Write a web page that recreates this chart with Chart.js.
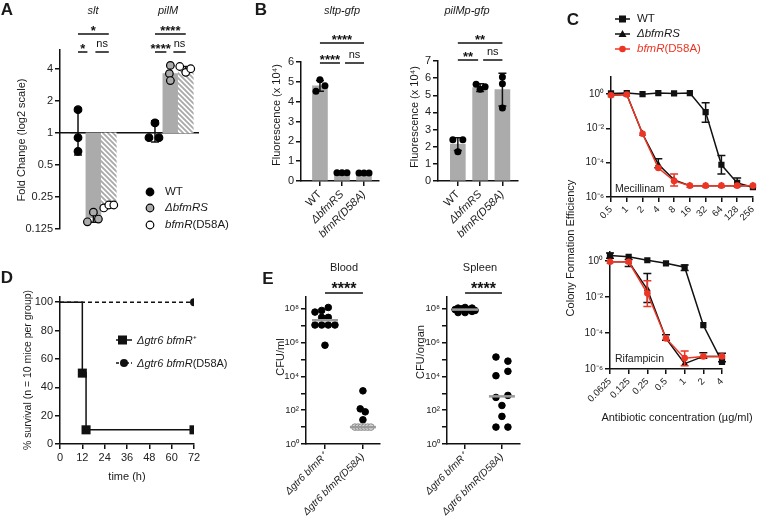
<!DOCTYPE html>
<html>
<head>
<meta charset="utf-8">
<title>BfmR figure</title>
<script src="https://cdn.jsdelivr.net/npm/chart.js@4.4.1/dist/chart.umd.min.js"></script>
<style>
  body { margin: 0; background: #fff; }
  #fig { position: relative; width: 763px; height: 516px; overflow: hidden; font-family: "Liberation Sans", Arial, sans-serif; color: #1a1a1a; }
  #fig canvas { position: absolute; }
  #fig svg { position: absolute; left: 0; top: 0; }
  .t { position: absolute; white-space: nowrap; line-height: 1; font-size: 11px; }
  .big { font-size: 17px; font-weight: bold; }
  .red { color: #ee3524; }
</style>
</head>
<body>
<div id="fig">
  <canvas id="chartA" width="250" height="250" style="left:0;top:0"></canvas>
  <canvas id="chartB1" width="132" height="250" style="left:252px;top:0"></canvas>
  <canvas id="chartB2" width="132" height="250" style="left:390px;top:0"></canvas>
  <canvas id="chartC1" width="185" height="200" style="left:578px;top:60px"></canvas>
  <canvas id="chartC2" width="160" height="170" style="left:578px;top:240px"></canvas>
  <canvas id="chartD" width="250" height="215" style="left:0;top:270px"></canvas>
  <canvas id="chartE1" width="130" height="246" style="left:258px;top:270px"></canvas>
  <canvas id="chartE2" width="125" height="246" style="left:400px;top:270px"></canvas>
  <svg width="763" height="516">
    <!-- legenda A -->
    <circle cx="150" cy="192" r="3.8" fill="#000" stroke="#000" stroke-width="1.2"/>
    <circle cx="150" cy="208" r="3.8" fill="#ababab" stroke="#000" stroke-width="1.2"/>
    <circle cx="150" cy="225" r="3.8" fill="#fff" stroke="#000" stroke-width="1.2"/>
    <!-- legenda C -->
    <line x1="615" y1="19" x2="630" y2="19" stroke="#111" stroke-width="1.5"/>
    <rect x="619" y="15.5" width="7" height="7" fill="#111"/>
    <line x1="615" y1="34" x2="630" y2="34" stroke="#111" stroke-width="1.5"/>
    <polygon points="622.5,30 626.5,37 618.5,37" fill="#111"/>
    <line x1="615" y1="49" x2="630" y2="49" stroke="#ee3524" stroke-width="1.5"/>
    <circle cx="622.5" cy="49" r="3.3" fill="#ee3524"/>
    <!-- legenda D -->
    <line x1="116" y1="340" x2="132" y2="340" stroke="#111" stroke-width="1.5"/>
    <rect x="118" y="335.5" width="9" height="9" fill="#111"/>
    <line x1="116" y1="363" x2="132" y2="363" stroke="#111" stroke-width="1.5" stroke-dasharray="3,2"/>
    <circle cx="124" cy="363" r="4" fill="#111"/>
  </svg>
</div>
<script>
// ---- A: fold change (log2), [gene][replicate] per strain
const aGenes = ['slt', 'pilM'];
const aWT   = [[1.65, 0.90, 0.67], [1.24, 0.90, 0.90]];
const aDRS  = [[0.146, 0.18, 0.155], [4.3, 3.6, 3.1]];
const aD58A = [[0.197, 0.21, 0.21], [4.2, 3.7, 4.0]];
// bar heights and error ranges, [gene][strain]
const aMean = [[1, 0.16, 0.205], [1, 3.6, 3.95]];
const aErr  = [[[0.62, 1.7], [0.145, 0.175], [0.198, 0.212]], [[0.82, 1.3], [3.1, 4.3], [3.75, 4.2]]];
const aTicks = [0.125, 0.25, 0.5, 1, 2, 4];

// ---- B: fluorescence (x 10^4), [strain][replicate]
const bLabels = ['WT', 'ΔbfmRS', 'bfmR(D58A)'];
const bSltPts  = [[4.53, 4.8, 5.1], [0.42, 0.42, 0.42], [0.4, 0.4, 0.4]];
const bSltMean = [4.8, 0.42, 0.4];
const bSltSd   = [0.27, 0.02, 0.02];
const bPilPts  = [[2.4, 2.4, 1.7], [5.65, 5.5, 5.35], [6.07, 5.67, 4.26]];
const bPilMean = [2.15, 5.45, 5.33];
const bPilSd   = [0.37, 0.23, 0.95];
const bSltTicks = [0, 1, 2, 3, 4, 5, 6];
const bPilTicks = [0, 1, 2, 3, 4, 5, 6, 7];

// ---- C: colony formation efficiency
const mecConc = ['0.5', '1', '2', '4', '8', '16', '32', '64', '128', '256'];
const mecWT   = [1.1, 1.15, 1.0, 1.15, 1.1, 1.15, 0.09, 7.6e-5, 6.6e-6, 3.7e-6];
const mecDRS  = [0.87, 0.95, 4.9e-3, 8e-5, 1e-5, 4.6e-6, 4.6e-6, 4.6e-6, 4.6e-6, 4.6e-6];
const mecD58A = [0.87, 0.95, 4.9e-3, 4.9e-5, 8.7e-6, 4.6e-6, 4.6e-6, 4.6e-6, 4.6e-6, 4.6e-6];
const mecWTErr   = [null, null, null, null, null, null, [0.023, 0.32], [2.2e-5, 2.6e-4], [4.5e-6, 1.3e-5], null];
const mecDRSErr  = [null, null, null, [5e-5, 1.7e-4], null, null, null, null, null, null];
const mecD58AErr = [null, null, null, null, [4.4e-6, 2.2e-5], null, null, null, null, null];

const rifConc = ['0.0625', '0.125', '0.25', '0.5', '1', '2', '4'];
const rifWT   = [2.0, 1.7, 1.1, 0.74, 0.45, 2.7e-4, 2.5e-6];
const rifDRS  = [0.9, 0.9, 0.027, 5e-5, 2e-6, 5e-6, 5e-6];
const rifD58A = [0.9, 0.9, 0.016, 5e-5, 4e-6, 5e-6, 5e-6];
const rifWTErr   = [[1.4, 2.8], null, null, null, [0.3, 0.6], null, [2.5e-6, 7.4e-6]];
const rifDRSErr  = [null, [0.5, 1.2], [5e-3, 0.2], [4e-5, 8e-5], null, [4e-6, 8e-6], null];
const rifD58AErr = [null, null, [3e-3, 0.08], null, [1.5e-6, 1e-5], null, null];
const cTicks = [1e-6, 1e-4, 1e-2, 1];

// ---- D: survival (%)
const dTime  = [0, 12, 14, 72];
const dWT    = [100, 50, 10, 10];
const dTime2 = [0, 72];
const dD58A  = [100, 100];
const dXTicks = [0, 12, 24, 36, 48, 60, 72];
const dYTicks = [0, 20, 40, 60, 80, 100];

// ---- E: CFU
const eLabels = ['Δgtr6 bfmR⁺', 'Δgtr6 bfmR(D58A)'];
const bloodWT   = [6.4e7, 8e7, 1.2e8, 3.1e7, 3.1e7, 1.1e7, 1.1e7, 1.1e7, 1.1e7, 7e5];
const bloodD58A = [1400, 120, 80, 27, 10, 10, 10, 10, 10, 10];
const spleenWT   = [1.1e8, 1.2e8, 1.1e8, 9e7, 1.0e8, 9e7, 8e7, 6e7, 6e7, 7e7];
const spleenD58A = [1.4e5, 8e4, 1.1e4, 2e4, 570, 750, 190, 43, 10, 10];
const bloodLOD = 10;
const eTicks = [1, 10, 1e2, 1e3, 1e4, 1e5, 1e6, 1e7, 1e8];

// ---------------------------------------------------------------
const INK = '#111';
const GRAY = '#ababab';
const RED = '#ee3524';
const FONT = '"Liberation Sans", Arial, Helvetica, sans-serif';
Chart.defaults.font.family = FONT;
Chart.defaults.color = '#222';
Chart.defaults.animation = false;
Chart.defaults.responsive = false;
Chart.defaults.plugins.legend.display = false;
Chart.defaults.plugins.tooltip.enabled = false;

const SUP = { '-': '⁻', '0': '⁰', '1': '¹', '2': '²', '3': '³', '4': '⁴', '5': '⁵', '6': '⁶', '7': '⁷', '8': '⁸', '9': '⁹' };
const pow10 = v => '10' + String(Math.round(Math.log10(v))).split('').map(c => SUP[c]).join('');

// barras de erro desenhadas logo depois do dataset
const errorBarPlugin = {
  id: 'errorBars',
  afterDatasetDraw(chart, args) {
    const ds = chart.data.datasets[args.index];
    if (!ds.errorBars) return;
    const meta = args.meta;
    const yScale = chart.scales[meta.yAxisID];
    const ctx = chart.ctx;
    const w = ds.capWidth || 4;
    ctx.save();
    ctx.strokeStyle = ds.errorColor || INK;
    ctx.lineWidth = 1.5;
    ds.errorBars.forEach((e, i) => {
      if (!e || !meta.data[i]) return;
      const x = meta.data[i].x;
      const y1 = yScale.getPixelForValue(e[0]);
      const y2 = yScale.getPixelForValue(e[1]);
      ctx.beginPath();
      ctx.moveTo(x, y1); ctx.lineTo(x, y2);
      ctx.moveTo(x - w, y1); ctx.lineTo(x + w, y1);
      ctx.moveTo(x - w, y2); ctx.lineTo(x + w, y2);
      ctx.stroke();
    });
    ctx.restore();
  }
};

// linhas de significância acima do gráfico
const sigPlugin = {
  id: 'sig',
  afterDraw(chart, args, opts) {
    if (!opts || !opts.items) return;
    const { ctx, chartArea } = chart;
    const x = chart.scales.x;
    ctx.save();
    ctx.strokeStyle = INK;
    ctx.fillStyle = INK;
    ctx.lineWidth = 1.5;
    ctx.textAlign = 'center';
    ctx.textBaseline = 'alphabetic';
    opts.items.forEach(it => {
      const x1 = x.getPixelForValue(it.from) + (it.insetL || 0);
      const x2 = x.getPixelForValue(it.to) - (it.insetR || 0);
      const y = chartArea.top + it.dy;
      ctx.beginPath(); ctx.moveTo(x1, y); ctx.lineTo(x2, y); ctx.stroke();
      const stars = it.text.indexOf('*') >= 0;
      ctx.font = stars ? `bold ${opts.starSize || 13}px ${FONT}` : `11px ${FONT}`;
      ctx.fillText(it.text, (x1 + x2) / 2, stars ? y + 1 : y - 5);
    });
    ctx.restore();
  }
};

// linha horizontal de referência (fold change = 1)
const refLinePlugin = {
  id: 'refLine',
  beforeDatasetsDraw(chart, args, opts) {
    if (!opts || opts.value === undefined) return;
    const { ctx, chartArea } = chart;
    const y = chart.scales.y.getPixelForValue(opts.value);
    ctx.save();
    ctx.strokeStyle = INK; ctx.lineWidth = 1.5;
    ctx.beginPath(); ctx.moveTo(chartArea.left, y); ctx.lineTo(chartArea.right, y); ctx.stroke();
    ctx.restore();
  }
};

// mediana (cinza) sobre os pontos
const medianPlugin = {
  id: 'medianLine',
  afterDatasetsDraw(chart) {
    const ctx = chart.ctx;
    chart.data.datasets.forEach(ds => {
      if (ds.center === undefined) return;
      const ys = ds.data.map(p => p.y).sort((a, b) => a - b);
      const n = ys.length;
      const med = n % 2 ? ys[(n - 1) / 2] : (ys[n / 2 - 1] + ys[n / 2]) / 2;
      const cx = chart.scales.x.getPixelForValue(ds.center);
      const cy = chart.scales.y.getPixelForValue(med);
      ctx.save();
      ctx.strokeStyle = '#9a9a9a'; ctx.lineWidth = 2.5;
      ctx.beginPath(); ctx.moveTo(cx - 13, cy); ctx.lineTo(cx + 13, cy); ctx.stroke();
      ctx.restore();
    });
  }
};
Chart.register(errorBarPlugin, sigPlugin, refLinePlugin, medianPlugin);

function scale(o) {
  const s = {
    type: o.type || 'linear',
    display: o.display !== false,
    offset: false,
    beginAtZero: false,
    border: { color: INK, width: 1.5 },
    grid: { drawOnChartArea: false, color: INK, lineWidth: 1.5, tickLength: 5, offset: false },
    ticks: { color: '#222', padding: 2, autoSkip: false, font: o.font || { size: 11 }, minRotation: o.rot || 0, maxRotation: o.rot || 0 }
  };
  if (o.size !== undefined) {
    s.afterFit = sc => { if (sc.isHorizontal()) sc.height = o.size; else sc.width = o.size; };
  }
  if (o.min !== undefined) s.min = o.min;
  if (o.max !== undefined) s.max = o.max;
  if (o.ticks) s.afterBuildTicks = sc => { sc.ticks = o.ticks.map(v => ({ value: v })); };
  if (o.fmt) s.ticks.callback = o.fmt;
  return s;
}

function makeHatch() {
  const c = document.createElement('canvas');
  c.width = 5; c.height = 5;
  const g = c.getContext('2d');
  g.fillStyle = '#fff'; g.fillRect(0, 0, 5, 5);
  g.strokeStyle = '#a9a9a9'; g.lineWidth = 1.8;
  g.beginPath();
  for (let k = -1; k <= 1; k++) { g.moveTo(k * 5 - 1, -1); g.lineTo(k * 5 + 6, 6); }
  g.stroke();
  return g.createPattern(c, 'repeat');
}

function opts(pad, scales, plugins) {
  return { devicePixelRatio: 1, layout: { autoPadding: false, padding: pad }, scales, plugins: plugins || {} };
}

// ---- painel A
const hatch = makeHatch();
const aPos = (g, s) => 1 + g * 5 + s;
const aPpu = 15.4;
const aJit = [[[0, 0, 0], [0, -6, 4]], [[-6, 0, 5], [0, -1, 0]], [[-5, 0, 5], [-6, 0, 5]]];
const aFill = ['#000', GRAY, '#fff'];
new Chart(document.getElementById('chartA'), {
  type: 'bar',
  data: {
    datasets: [
      ...[aWT, aDRS, aD58A].map((reps, s) => ({
        type: 'scatter', order: 1,
        data: reps.flatMap((vals, g) => vals.map((v, r) => ({ x: aPos(g, s) + aJit[s][g][r] / aPpu, y: v }))),
        pointRadius: 3.8, pointBackgroundColor: aFill[s], pointBorderColor: '#000', pointBorderWidth: 1.2
      })),
      {
        type: 'bar', order: 5,
        data: aMean.flatMap((row, g) => row.map((m, s) => ({ x: aPos(g, s), y: [1, m] }))),
        backgroundColor: aMean.flatMap(row => row.map((m, s) => [INK, GRAY, hatch][s])),
        barThickness: 15, errorBars: aErr.flat(1)
      }
    ]
  },
  options: opts({ top: 50, right: 51, bottom: 21, left: 0 }, {
    x: scale({ display: false, min: -0.17, max: 8.86 }),
    y: scale({ type: 'logarithmic', min: 0.125, max: 6, ticks: aTicks, fmt: v => String(v), size: 60 })
  }, {
    refLine: { value: 1 },
    sig: { items: [
      { from: 1, to: 3, dy: -16, text: '*' },
      { from: 1, to: 2, dy: 2, text: '*', insetR: 6 },
      { from: 2, to: 3, dy: 2, text: 'ns', insetL: 2 },
      { from: 6, to: 8, dy: -16, text: '****' },
      { from: 6, to: 7, dy: 2, text: '****', insetR: 4 },
      { from: 7, to: 8, dy: 2, text: 'ns', insetL: 3 }
    ] }
  })
});

// ---- painel B
function barPanel(id, pts, means, sds, yMax, yTicks, xMin, xMax, ppu, jit, pad, yW, sig) {
  new Chart(document.getElementById(id), {
    type: 'bar',
    data: {
      datasets: [
        {
          type: 'scatter', order: 1,
          data: pts.flatMap((vals, s) => vals.map((v, r) => ({ x: s + jit[s][r] / ppu, y: v }))),
          pointRadius: 3.5, pointBackgroundColor: '#000', pointBorderColor: '#000', pointBorderWidth: 0
        },
        {
          type: 'bar', order: 5,
          data: means.map((m, s) => ({ x: s, y: m })),
          backgroundColor: GRAY, barThickness: 15,
          errorBars: means.map((m, s) => [m - sds[s], m + sds[s]])
        }
      ]
    },
    options: opts(pad, {
      x: scale({ min: xMin, max: xMax, ticks: [0, 1, 2], fmt: v => bLabels[v], rot: 45, size: 69,
        font: ctx => ({ size: 11, style: ctx.index === 0 ? 'normal' : 'italic' }) }),
      y: scale({ min: 0, max: yMax, ticks: yTicks, fmt: v => String(v), size: yW })
    }, { sig: { items: sig } })
  });
}
barPanel('chartB1', bSltPts, bSltMean, bSltSd, 6, bSltTicks, -0.86, 2.68, 22,
  [[-4, 5, 0], [-5, 0, 5], [-5, 0, 5]], { top: 62, right: 5, left: 0, bottom: 0 }, 49, [
    { from: 0, to: 2, dy: -19, text: '****' },
    { from: 0, to: 1, dy: 1, text: '****', insetR: 2 },
    { from: 1, to: 2, dy: 1, text: 'ns', insetL: 3 }
  ]);
barPanel('chartB2', bPilPts, bPilMean, bPilSd, 7, bPilTicks, -0.89, 2.7, 22.3,
  [[-5, 5, 0], [-4, 5, 0], [0, 0, 0]], { top: 61, right: 4, left: 0, bottom: 0 }, 48, [
    { from: 0, to: 2, dy: -18, text: '**' },
    { from: 0, to: 1, dy: -1, text: '**', insetR: 2 },
    { from: 1, to: 2, dy: -1, text: 'ns', insetL: 3 }
  ]);

// ---- painel C
function curvePanel(id, labels, wt, drs, d58a, errs, yMax, pad, yW, xH) {
  const line = (data, color, style, r, order, err) => ({
    data, borderColor: color, backgroundColor: color, pointBackgroundColor: color, pointBorderWidth: 0,
    pointStyle: style, pointRadius: r, borderWidth: 1.5, tension: 0, order, errorBars: err, errorColor: color
  });
  new Chart(document.getElementById(id), {
    type: 'line',
    data: {
      labels,
      datasets: [
        line(wt, INK, 'rect', 4.4, 2, errs[0]),
        line(drs, INK, 'triangle', 4, 3, errs[1]),
        line(d58a, RED, 'circle', 3.3, 1, errs[2])
      ]
    },
    options: opts(pad, {
      x: scale({ type: 'category', rot: 45, size: xH, font: { size: 9.5 } }),
      y: scale({ type: 'logarithmic', min: 1e-6, max: yMax, ticks: cTicks, fmt: pow10, size: yW, font: { size: 10 } })
    })
  });
}
curvePanel('chartC1', mecConc, mecWT, mecDRS, mecD58A, [mecWTErr, mecDRSErr, mecD58AErr], 10,
  { top: 17, right: 2, left: 0, bottom: 0 }, 33, 63);
curvePanel('chartC2', rifConc, rifWT, rifDRS, rifD58A, [rifWTErr, rifDRSErr, rifD58AErr], 3.16,
  { top: 12, right: 16, left: 0, bottom: 0 }, 32, 41);

// ---- painel D
new Chart(document.getElementById('chartD'), {
  type: 'line',
  data: {
    datasets: [
      {
        data: dTime.map((t, i) => ({ x: t, y: dWT[i] })), stepped: 'before',
        borderColor: INK, borderWidth: 1.5, pointStyle: 'rect', pointBackgroundColor: INK, pointBorderWidth: 0,
        pointRadius: ctx => ctx.dataIndex === 0 ? 0 : 6.4
      },
      {
        data: dTime2.map((t, i) => ({ x: t, y: dD58A[i] })), borderDash: [4, 3],
        borderColor: INK, borderWidth: 1.5, pointStyle: 'circle', pointBackgroundColor: INK, pointBorderWidth: 0,
        pointRadius: ctx => ctx.dataIndex === 0 ? 0 : 4
      }
    ]
  },
  options: opts({ top: 27, right: 56, left: 0, bottom: 0 }, {
    x: scale({ min: 0, max: 72, ticks: dXTicks, fmt: v => String(v), size: 41 }),
    y: scale({ min: 0, max: 103.7, ticks: dYTicks, fmt: v => String(v), size: 60 })
  })
});

// ---- painel E
function dotPanel(id, groups, jits, ppu, xMin, xMax, pad, yW, lod) {
  new Chart(document.getElementById(id), {
    type: 'scatter',
    data: {
      datasets: groups.map((vals, g) => ({
        data: vals.map((v, i) => ({ x: g + jits[g][i] / ppu, y: v })),
        center: g,
        pointRadius: 3.3,
        pointBackgroundColor: ctx => (lod && ctx.raw && ctx.raw.y <= lod) ? '#dcdcdc' : '#000',
        pointBorderColor: ctx => (lod && ctx.raw && ctx.raw.y <= lod) ? '#8a8a8a' : '#000',
        pointBorderWidth: 1
      }))
    },
    options: opts(pad, {
      x: scale({ min: xMin, max: xMax, ticks: [0, 1], fmt: v => eLabels[v], rot: 45, size: 72,
        font: { size: 10, style: 'italic' } }),
      y: scale({ type: 'logarithmic', min: 1, max: 5e8, ticks: eTicks, size: yW, font: { size: 9.5 },
        fmt: v => Math.round(Math.log10(v)) % 2 === 0 ? pow10(v) : '' })
    }, { sig: { starSize: 16, items: [{ from: 0, to: 1, dy: -4, text: '****' }] } })
  });
}
dotPanel('chartE1', [bloodWT, bloodD58A],
  [[-10, -3.3, 3.3, -3.3, 3.3, -10, -3.3, 3.3, 10, 0], [0, -2.7, 2.3, 0, -8, -4.8, -1.6, 1.6, 4.8, 8]],
  38, -0.5, 1.45, { top: 27, right: 8, left: 0, bottom: 0 }, 48, bloodLOD);
dotPanel('chartE2', [spleenWT, spleenD58A],
  [[-7, 0, 7, -10, -3, 4, 10, -7, 0, 7], [-6, 6, -6, 6, -6, 6, 0, 0, -6, 6]],
  37, -0.49, 1.49, { top: 27, right: 5, left: 0, bottom: 0 }, 47, null);

// ---- textos
const fig = document.getElementById('fig');
function label(html, x, y, o = {}) {
  const d = document.createElement('div');
  d.className = 't' + (o.cls ? ' ' + o.cls : '');
  d.innerHTML = html;
  d.style.left = x + 'px';
  d.style.top = y + 'px';
  if (o.size) d.style.fontSize = o.size + 'px';
  const ax = o.align === 'left' ? '0' : '-50%';
  d.style.transform = `translate(${ax}, -50%)` + (o.rot ? ` rotate(${o.rot}deg)` : '');
  fig.appendChild(d);
}
label('A', 7, 9, { cls: 'big' });
label('B', 261, 9, { cls: 'big' });
label('C', 573, 19, { cls: 'big' });
label('D', 7, 277, { cls: 'big' });
label('E', 268, 278, { cls: 'big' });

label('<i>' + aGenes[0] + '</i>', 93, 10);
label('<i>' + aGenes[1] + '</i>', 168, 10);
label('Fold Change (log2 scale)', 21, 140, { rot: -90 });
label('WT', 165, 192, { align: 'left', size: 11.5 });
label('<i>ΔbfmRS</i>', 165, 208, { align: 'left', size: 11.5 });
label('<i>bfmR</i>(D58A)', 165, 225, { align: 'left', size: 11.5 });

label('<i>sltp-gfp</i>', 342, 10);
label('<i>pilMp-gfp</i>', 467, 10);
label('Fluorescence (x 10⁴)', 276, 115, { rot: -90 });
label('Fluorescence (x 10⁴)', 414, 117, { rot: -90 });

label('WT', 637, 19, { align: 'left', size: 11.5 });
label('<i>ΔbfmRS</i>', 637, 34, { align: 'left', size: 11.5 });
label('<span class="red"><i>bfmR</i>(D58A)</span>', 637, 49, { align: 'left', size: 11.5 });
label('Mecillinam', 615, 188, { align: 'left', size: 10.5 });
label('Rifampicin', 615, 358, { align: 'left', size: 10.5 });
label('Colony Formation Efficiency', 570, 248, { rot: -90 });
label('Antibiotic concentration (µg/ml)', 677, 417);

label('% survival (n = 10 mice per group)', 27, 370, { rot: -90, size: 10.5 });
label('time (h)', 127, 476);
label('<i>Δgtr6 bfmR</i>⁺', 137, 340, { align: 'left' });
label('<i>Δgtr6 bfmR</i>(D58A)', 137, 363, { align: 'left' });

label('Blood', 344, 267);
label('Spleen', 480, 267);
label('CFU/ml', 280, 357, { rot: -90 });
label('CFU/organ', 420, 352, { rot: -90 });
</script>
</body>
</html>
